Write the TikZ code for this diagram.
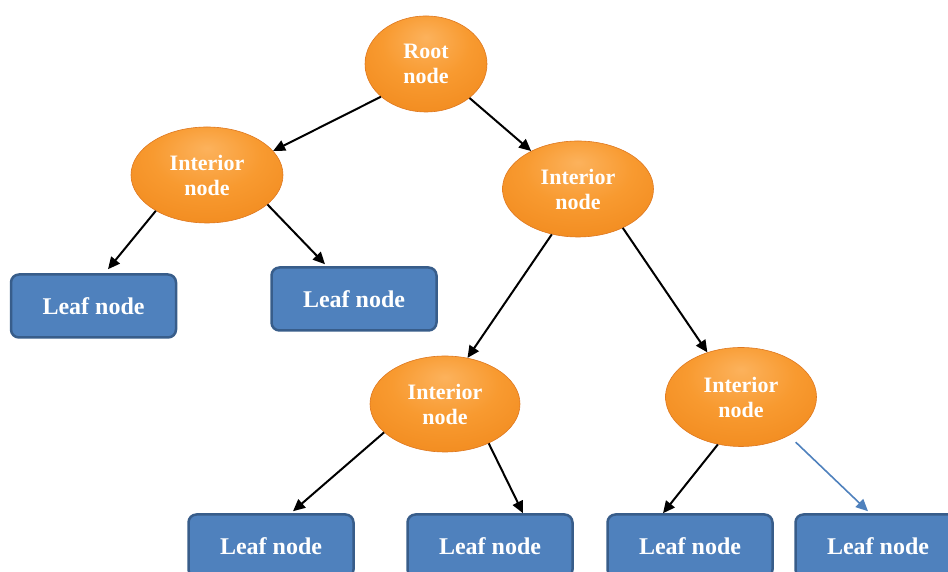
\documentclass[tikz,border=0pt]{standalone}
\usepackage{fontspec}
\setmainfont{Liberation Serif}
\usetikzlibrary{shapes.geometric,arrows.meta,calc}
\definecolor{orlight}{RGB}{252,178,92}
\definecolor{ormid}{RGB}{248,154,48}
\definecolor{ormain}{RGB}{242,140,32}
\definecolor{orout}{RGB}{226,122,24}
\definecolor{ordark}{RGB}{208,108,20}
\definecolor{orline}{RGB}{222,120,32}
\definecolor{leaffill}{RGB}{79,129,189}
\definecolor{leafline}{RGB}{56,93,138}
\pgfdeclareradialshading{orshade}{\pgfpoint{0bp}{14bp}}{%
  color(0bp)=(orlight); color(18bp)=(ormid); color(34bp)=(ormain);
  color(48bp)=(orout); color(66bp)=(ordark)}
\begin{document}
\begin{tikzpicture}[x=1pt,y=1pt,
  inode/.style={ellipse, inner sep=0pt, minimum width=151pt, minimum height=96pt,
    shading=orshade, draw=orline, line width=0.6pt,
    text=white, font=\fontsize{22}{25}\selectfont\bfseries, align=center},
  leafbox/.style={rectangle, rounded corners=8pt, inner sep=0pt,
    minimum width=165pt, minimum height=63pt, fill=leaffill, draw=leafline,
    line width=2.5pt, text=white, font=\fontsize{24}{28}\selectfont\bfseries},
  edge/.style={draw=black, line width=2pt, -{Triangle[length=12pt,width=11pt]}},
  bedge/.style={draw=leaffill, line width=1.6pt, -{Triangle[length=12pt,width=11pt]}}
]
\useasboundingbox (0,0) rectangle (948,572);
\clip (0,0) rectangle (948,572);
\node[inode, minimum width=122pt] (root) at (426,508) {Root\\node};
\node[inode, minimum width=152pt] (il) at (207,397) {Interior\\node};
\node[inode] (ir) at (578,383) {Interior\\node};
\node[inode, minimum width=150pt] (ibl) at (445,168) {Interior\\node};
\node[inode, minimum height=99pt] (ibr) at (741,175) {Interior\\node};
\node[leafbox] (l1) at (93.5,266) {Leaf node};
\node[leafbox] (l2) at (354,273) {Leaf node};
\node[leafbox] (l3) at (271,26) {Leaf node};
\node[leafbox] (l4) at (490,26) {Leaf node};
\node[leafbox] (l5) at (690,26) {Leaf node};
\node[leafbox] (l6) at (878,26) {Leaf node};
\draw[edge] (root.216) -- (il.20);
\draw[edge] (root.322) -- (ir.141);
\draw[edge] (il.215) -- ($(l1.north)+(14.5,4)$);
\draw[edge] (il.334) -- ($(l2.north)+(-29,2)$);
\draw[edge] (ir.240) -- (ibl.64);
\draw[edge] (ir.319) -- (ibr.127);
\draw[edge] (ibl.205) -- ($(l3.north)+(22,2)$);
\draw[edge] (ibl.318) -- ($(l4.north)+(33,0)$);
\draw[edge] (ibr.244) -- ($(l5.north)+(-27,0)$);
\draw[bedge] ($(ibr.320)+(8,-6)$) -- ($(l6.north)+(-10,2)$);
\end{tikzpicture}
\end{document}
